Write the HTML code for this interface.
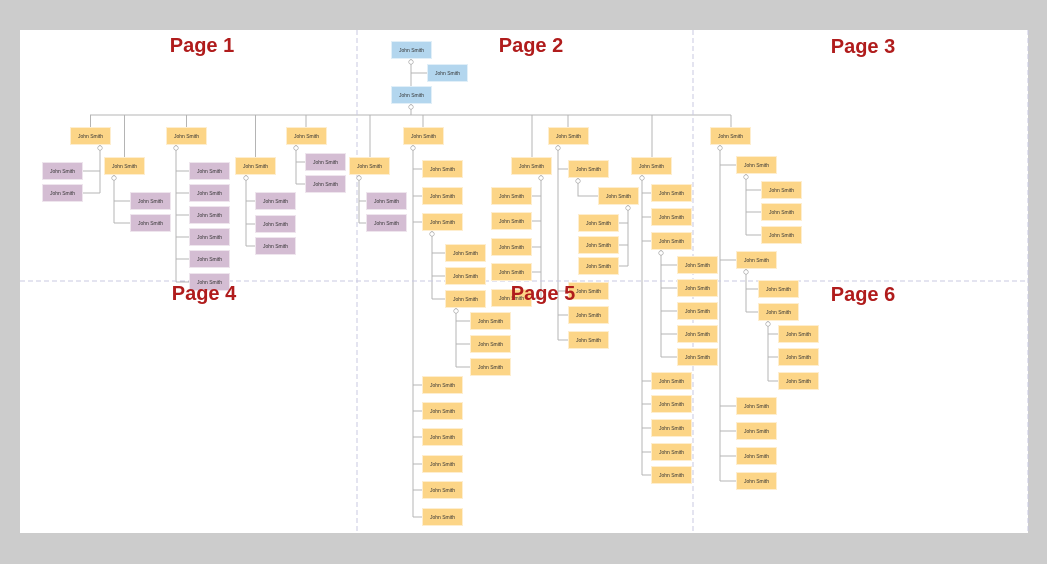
<!DOCTYPE html>
<html><head><meta charset="utf-8"><style>
html,body{margin:0;padding:0;}
body{width:1047px;height:564px;background:#cccccc;position:relative;overflow:hidden;font-family:"Liberation Sans",sans-serif;}
#page{position:absolute;left:20px;top:30px;width:1008px;height:503px;background:#fff;}
svg{position:absolute;left:0;top:0;}
.b{position:absolute;width:41px;height:18px;font-size:5px;line-height:18px;text-align:center;color:#333;box-sizing:border-box;border:1px solid rgba(255,255,255,0.6);}
.y{background:#fcd587;}
.p{background:#d4bdd3;}
.u{background:#b3d6ee;}
.h{position:absolute;font-size:20px;font-weight:bold;color:#b01c1c;width:120px;text-align:center;line-height:24px;}
</style></head><body>
<div id="page"></div>
<svg width="1047" height="564">
<g stroke="#b4b4b4" stroke-width="1" fill="none">
<path d="M90 115H731"/>
<path d="M90.5 115V127M124.5 115V157M186.5 115V127M255.5 115V157M306 115V127M370 115V157M423 115V127M532 115V157M568 115V127M652 115V157M731 115V127"/>
<path d="M411 59V86M411 104V115M411 73H427"/>
<path d="M100 145V193M100 171H83M100 193H83"/>
<path d="M114 175V223M114 201H130M114 223H130"/>
<path d="M176 145V282M176 171H189M176 193H189M176 215H189M176 237H189M176 259H189M176 282H189"/>
<path d="M246 175V246M246 201H255M246 224H255M246 246H255"/>
<path d="M296 145V184M296 162H305M296 184H305"/>
<path d="M359 175V223M359 201H366M359 223H366"/>
<path d="M413 145V517M413 169H422M413 196H422M413 222H422M413 385H422M413 411H422M413 437H422M413 464H422M413 490H422M413 517H422"/>
<path d="M432 231V299M432 253H445M432 276H445M432 299H445"/>
<path d="M456 308V367M456 321H470M456 344H470M456 367H470"/>
<path d="M541 175V298M541 196H532M541 221H532M541 247H532M541 272H532M541 298H532"/>
<path d="M558 145V340M558 169H568M558 291H568M558 315H568M558 340H568"/>
<path d="M578 178V196H598"/>
<path d="M628 205V266M628 223H619M628 245H619M628 266H619"/>
<path d="M642 175V475M642 193H651M642 217H651M642 241H651M642 381H651M642 404H651M642 428H651M642 452H651M642 475H651"/>
<path d="M661 250V357M661 265H677M661 288H677M661 311H677M661 334H677M661 357H677"/>
<path d="M720 145V481M720 165H736M720 260H736M720 406H736M720 431H736M720 456H736M720 481H736"/>
<path d="M746 174V235M746 190H761M746 212H761M746 235H761"/>
<path d="M746 269V312M746 289H758M746 312H758"/>
<path d="M768 321V381M768 334H778M768 357H778M768 381H778"/>
</g>
<g stroke="#c8c8e2" stroke-width="1" stroke-dasharray="5,3" fill="none">
<path d="M357 30V533M693 30V533M1028 30V533M20 281H1028"/>
</g>
<g fill="#fff" stroke="#999" stroke-width="0.6">
<circle cx="411" cy="62" r="2.2"/><circle cx="411" cy="107" r="2.2"/>
<circle cx="100" cy="148" r="2.2"/><circle cx="114" cy="178" r="2.2"/><circle cx="176" cy="148" r="2.2"/><circle cx="246" cy="178" r="2.2"/><circle cx="296" cy="148" r="2.2"/><circle cx="359" cy="178" r="2.2"/>
<circle cx="413" cy="148" r="2.2"/><circle cx="432" cy="234" r="2.2"/><circle cx="456" cy="311" r="2.2"/><circle cx="541" cy="178" r="2.2"/><circle cx="558" cy="148" r="2.2"/><circle cx="578" cy="181" r="2.2"/><circle cx="628" cy="208" r="2.2"/><circle cx="642" cy="178" r="2.2"/><circle cx="661" cy="253" r="2.2"/><circle cx="720" cy="148" r="2.2"/><circle cx="746" cy="177" r="2.2"/><circle cx="746" cy="272" r="2.2"/><circle cx="768" cy="324" r="2.2"/>
</g>
</svg>

<div class="b u" style="left:391px;top:41px">John Smith</div>
<div class="b u" style="left:427px;top:64px">John Smith</div>
<div class="b u" style="left:391px;top:86px">John Smith</div>

<div class="b y" style="left:70px;top:127px">John Smith</div>
<div class="b p" style="left:42px;top:162px">John Smith</div>
<div class="b p" style="left:42px;top:184px">John Smith</div>
<div class="b y" style="left:104px;top:157px">John Smith</div>
<div class="b p" style="left:130px;top:192px">John Smith</div>
<div class="b p" style="left:130px;top:214px">John Smith</div>
<div class="b y" style="left:166px;top:127px">John Smith</div>
<div class="b p" style="left:189px;top:162px">John Smith</div>
<div class="b p" style="left:189px;top:184px">John Smith</div>
<div class="b p" style="left:189px;top:206px">John Smith</div>
<div class="b p" style="left:189px;top:228px">John Smith</div>
<div class="b p" style="left:189px;top:250px">John Smith</div>
<div class="b p" style="left:189px;top:273px">John Smith</div>
<div class="b y" style="left:235px;top:157px">John Smith</div>
<div class="b p" style="left:255px;top:192px">John Smith</div>
<div class="b p" style="left:255px;top:215px">John Smith</div>
<div class="b p" style="left:255px;top:237px">John Smith</div>
<div class="b y" style="left:286px;top:127px">John Smith</div>
<div class="b p" style="left:305px;top:153px">John Smith</div>
<div class="b p" style="left:305px;top:175px">John Smith</div>
<div class="b y" style="left:349px;top:157px">John Smith</div>
<div class="b p" style="left:366px;top:192px">John Smith</div>
<div class="b p" style="left:366px;top:214px">John Smith</div>

<div class="b y" style="left:403px;top:127px">John Smith</div>
<div class="b y" style="left:422px;top:160px">John Smith</div>
<div class="b y" style="left:422px;top:187px">John Smith</div>
<div class="b y" style="left:422px;top:213px">John Smith</div>
<div class="b y" style="left:445px;top:244px">John Smith</div>
<div class="b y" style="left:445px;top:267px">John Smith</div>
<div class="b y" style="left:445px;top:290px">John Smith</div>
<div class="b y" style="left:470px;top:312px">John Smith</div>
<div class="b y" style="left:470px;top:335px">John Smith</div>
<div class="b y" style="left:470px;top:358px">John Smith</div>
<div class="b y" style="left:422px;top:376px">John Smith</div>
<div class="b y" style="left:422px;top:402px">John Smith</div>
<div class="b y" style="left:422px;top:428px">John Smith</div>
<div class="b y" style="left:422px;top:455px">John Smith</div>
<div class="b y" style="left:422px;top:481px">John Smith</div>
<div class="b y" style="left:422px;top:508px">John Smith</div>

<div class="b y" style="left:511px;top:157px">John Smith</div>
<div class="b y" style="left:491px;top:187px">John Smith</div>
<div class="b y" style="left:491px;top:212px">John Smith</div>
<div class="b y" style="left:491px;top:238px">John Smith</div>
<div class="b y" style="left:491px;top:263px">John Smith</div>
<div class="b y" style="left:491px;top:289px">John Smith</div>

<div class="b y" style="left:548px;top:127px">John Smith</div>
<div class="b y" style="left:568px;top:160px">John Smith</div>
<div class="b y" style="left:598px;top:187px">John Smith</div>
<div class="b y" style="left:578px;top:214px">John Smith</div>
<div class="b y" style="left:578px;top:236px">John Smith</div>
<div class="b y" style="left:578px;top:257px">John Smith</div>
<div class="b y" style="left:568px;top:282px">John Smith</div>
<div class="b y" style="left:568px;top:306px">John Smith</div>
<div class="b y" style="left:568px;top:331px">John Smith</div>

<div class="b y" style="left:631px;top:157px">John Smith</div>
<div class="b y" style="left:651px;top:184px">John Smith</div>
<div class="b y" style="left:651px;top:208px">John Smith</div>
<div class="b y" style="left:651px;top:232px">John Smith</div>
<div class="b y" style="left:677px;top:256px">John Smith</div>
<div class="b y" style="left:677px;top:279px">John Smith</div>
<div class="b y" style="left:677px;top:302px">John Smith</div>
<div class="b y" style="left:677px;top:325px">John Smith</div>
<div class="b y" style="left:677px;top:348px">John Smith</div>
<div class="b y" style="left:651px;top:372px">John Smith</div>
<div class="b y" style="left:651px;top:395px">John Smith</div>
<div class="b y" style="left:651px;top:419px">John Smith</div>
<div class="b y" style="left:651px;top:443px">John Smith</div>
<div class="b y" style="left:651px;top:466px">John Smith</div>

<div class="b y" style="left:710px;top:127px">John Smith</div>
<div class="b y" style="left:736px;top:156px">John Smith</div>
<div class="b y" style="left:761px;top:181px">John Smith</div>
<div class="b y" style="left:761px;top:203px">John Smith</div>
<div class="b y" style="left:761px;top:226px">John Smith</div>
<div class="b y" style="left:736px;top:251px">John Smith</div>
<div class="b y" style="left:758px;top:280px">John Smith</div>
<div class="b y" style="left:758px;top:303px">John Smith</div>
<div class="b y" style="left:778px;top:325px">John Smith</div>
<div class="b y" style="left:778px;top:348px">John Smith</div>
<div class="b y" style="left:778px;top:372px">John Smith</div>
<div class="b y" style="left:736px;top:397px">John Smith</div>
<div class="b y" style="left:736px;top:422px">John Smith</div>
<div class="b y" style="left:736px;top:447px">John Smith</div>
<div class="b y" style="left:736px;top:472px">John Smith</div>

<div class="h" style="left:142px;top:34px">Page 1</div>
<div class="h" style="left:471px;top:34px">Page 2</div>
<div class="h" style="left:803px;top:35px">Page 3</div>
<div class="h" style="left:144px;top:282px">Page 4</div>
<div class="h" style="left:483px;top:282px">Page 5</div>
<div class="h" style="left:803px;top:283px">Page 6</div>
</body></html>
